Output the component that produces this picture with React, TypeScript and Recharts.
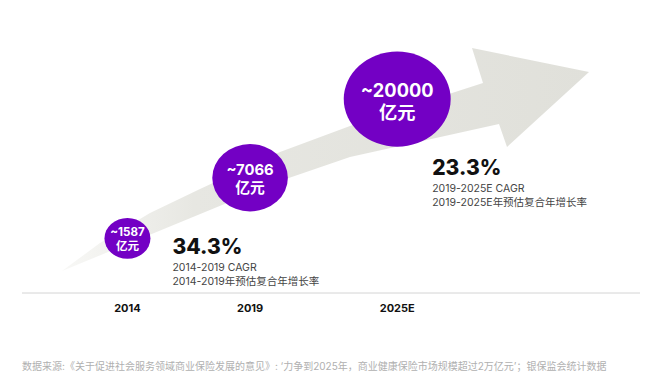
import React from "react";
import { ComposedChart, Scatter, XAxis, YAxis, Customized } from "recharts";

// market size of commercial health insurance, 亿元
const years = [2014, 2019, 2025];
const yearLabels = ["2014", "2019", "2025E"];
const marketSize = [1587, 7066, 20000];

// growth notes: which bubble each note hangs off
const cagrPeriods = ["2014-2019", "2019-2025E"];
const cagrRates = [34.3, 23.3];
const cagrAnchor = [0, 2];

const sourceNote =
  "数据来源:《关于促进社会服务领域商业保险发展的意见》: ‘力争到2025年，商业健康保险市场规模超过2万亿元’；银保监会统计数据";

const W = 651;
const H = 385;
const MARGIN = { top: 20, right: 11, left: 22, bottom: 62 };
const PURPLE = "#7300C4";
const FONT = "Inter, 'Noto Sans CJK SC', sans-serif";

// note placement relative to its anchor bubble
const NOTE_OFFSET = [
  { dx: 45, dy: 8 },
  { dx: 35, dy: 68 },
];

// background arrow (pure decoration, pixel outline)
const ARROW =
  "M62,271 L100,243 L150,213 L200,189 L280,152 L350,126 L483,83 L472,48 L589,72 L507,147 L499,124 L350,157 L283,180 Z";

const bubbles = years.map((y, i) => ({ year: y, value: marketSize[i] }));
const notes = cagrRates.map((r, i) => ({
  year: years[cagrAnchor[i]],
  value: marketSize[cagrAnchor[i]],
  rate: r,
  period: cagrPeriods[i],
  idx: i,
}));

function Bubble(props: any) {
  const { cx, cy, payload } = props;
  if (cx == null || cy == null) return null;
  const rx = 1.97 * Math.cbrt(payload.value);
  const ry = rx * 0.89;
  const fs = rx * 0.22 + 6.5;
  return (
    <g>
      <ellipse cx={cx} cy={cy} rx={rx} ry={ry} fill={PURPLE} />
      <text
        x={cx}
        y={cy - fs * 0.52}
        textAnchor="middle"
        dominantBaseline="central"
        fill="#fff"
        fontSize={fs}
        fontWeight={700}
        fontFamily={FONT}
      >
        ~{payload.value}
      </text>
      <text
        x={cx}
        y={cy + fs * 0.7}
        textAnchor="middle"
        dominantBaseline="central"
        fill="#fff"
        fontSize={fs}
        fontWeight={700}
        fontFamily={FONT}
      >
        亿元
      </text>
    </g>
  );
}

function Note(props: any) {
  const { cx, cy, payload } = props;
  if (cx == null || cy == null) return null;
  const off = NOTE_OFFSET[payload.idx];
  const x = cx + off.dx;
  const y = cy + off.dy;
  return (
    <g fontFamily={FONT}>
      <text x={x} y={y} dominantBaseline="central" fontSize={21} fontWeight={800} fill="#111">
        {payload.rate.toFixed(1)}%
      </text>
      <text x={x} y={y + 21} dominantBaseline="central" fontSize={10.5} fill="#444">
        {payload.period} CAGR
      </text>
      <text x={x} y={y + 35} dominantBaseline="central" fontSize={10.5} fill="#444">
        {payload.period}年预估复合年增长率
      </text>
    </g>
  );
}

const ArrowBg = () => (
  <g>
    <defs>
      <linearGradient id="arrowFill" x1="0" y1="0" x2="1" y2="0">
        <stop offset="0%" stopColor="#f8f8f6" />
        <stop offset="25%" stopColor="#e7e7e2" />
        <stop offset="100%" stopColor="#e0e0da" />
      </linearGradient>
    </defs>
    <path d={ARROW} fill="url(#arrowFill)" />
  </g>
);

const SourceText = () => (
  <text x={22} y={366} dominantBaseline="central" fontSize={10} fill="#b0b0b0" fontFamily={FONT}>
    {sourceNote}
  </text>
);

export default function App() {
  return (
    <div style={{ width: W, height: H, background: "#fff" }}>
      <style>{"body{margin:0}"}</style>
      <ComposedChart width={W} height={H} margin={MARGIN}>
        <Customized component={<ArrowBg />} />
        <XAxis
          type="number"
          dataKey="year"
          domain={[2009.7, 2034.9]}
          allowDataOverflow
          ticks={years}
          interval={0}
          tickFormatter={(v: number) => yearLabels[years.indexOf(v)] ?? ""}
          tickLine={false}
          axisLine={{ stroke: "#d4d4d4" }}
          tickMargin={5}
          height={30}
          tick={{ fontSize: 11, fontWeight: 700, fill: "#111", fontFamily: FONT }}
        />
        <YAxis type="number" dataKey="value" scale="sqrt" domain={[0, 39650]} hide />
        <Scatter data={bubbles} dataKey="value" shape={<Bubble />} isAnimationActive={false} />
        <Scatter data={notes} dataKey="value" shape={<Note />} isAnimationActive={false} />
        <Customized component={<SourceText />} />
      </ComposedChart>
    </div>
  );
}
